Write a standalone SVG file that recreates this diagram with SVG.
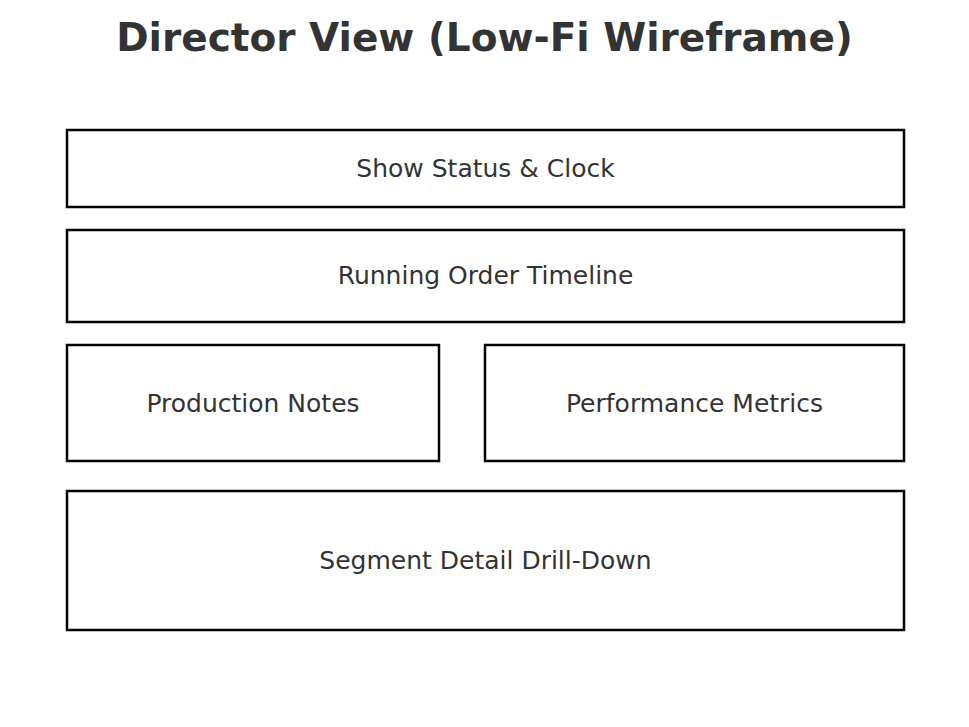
<svg xmlns="http://www.w3.org/2000/svg" width="969" height="727" viewBox="0 0 969 727">
<style>
.box{fill:#ffffff;stroke:#000000;stroke-width:2.5}
.lbl{font-family:"DejaVu Sans",sans-serif;font-size:25px;fill:#333333;text-anchor:middle}
.title{font-family:"DejaVu Sans",sans-serif;font-size:39px;font-weight:bold;fill:#333333;text-anchor:middle}
</style>
<rect width="969" height="727" fill="#ffffff"/>
<text class="title" x="484.5" y="51">Director View (Low-Fi Wireframe)</text>
<g id="show-status">
<rect class="box" x="67" y="130" width="837" height="77"/>
<text class="lbl" x="485.5" y="177">Show Status &amp; Clock</text>
</g>
<g id="running-order">
<rect class="box" x="67" y="230" width="837" height="92"/>
<text class="lbl" x="485.5" y="284">Running Order Timeline</text>
</g>
<g id="production-notes">
<rect class="box" x="67" y="345" width="372" height="116"/>
<text class="lbl" x="253" y="412">Production Notes</text>
</g>
<g id="performance-metrics">
<rect class="box" x="485" y="345" width="419" height="116"/>
<text class="lbl" x="694.5" y="412">Performance Metrics</text>
</g>
<g id="segment-detail">
<rect class="box" x="67" y="491" width="837" height="139"/>
<text class="lbl" x="485.5" y="569">Segment Detail Drill-Down</text>
</g>
<g id="connectors"></g>
</svg>
